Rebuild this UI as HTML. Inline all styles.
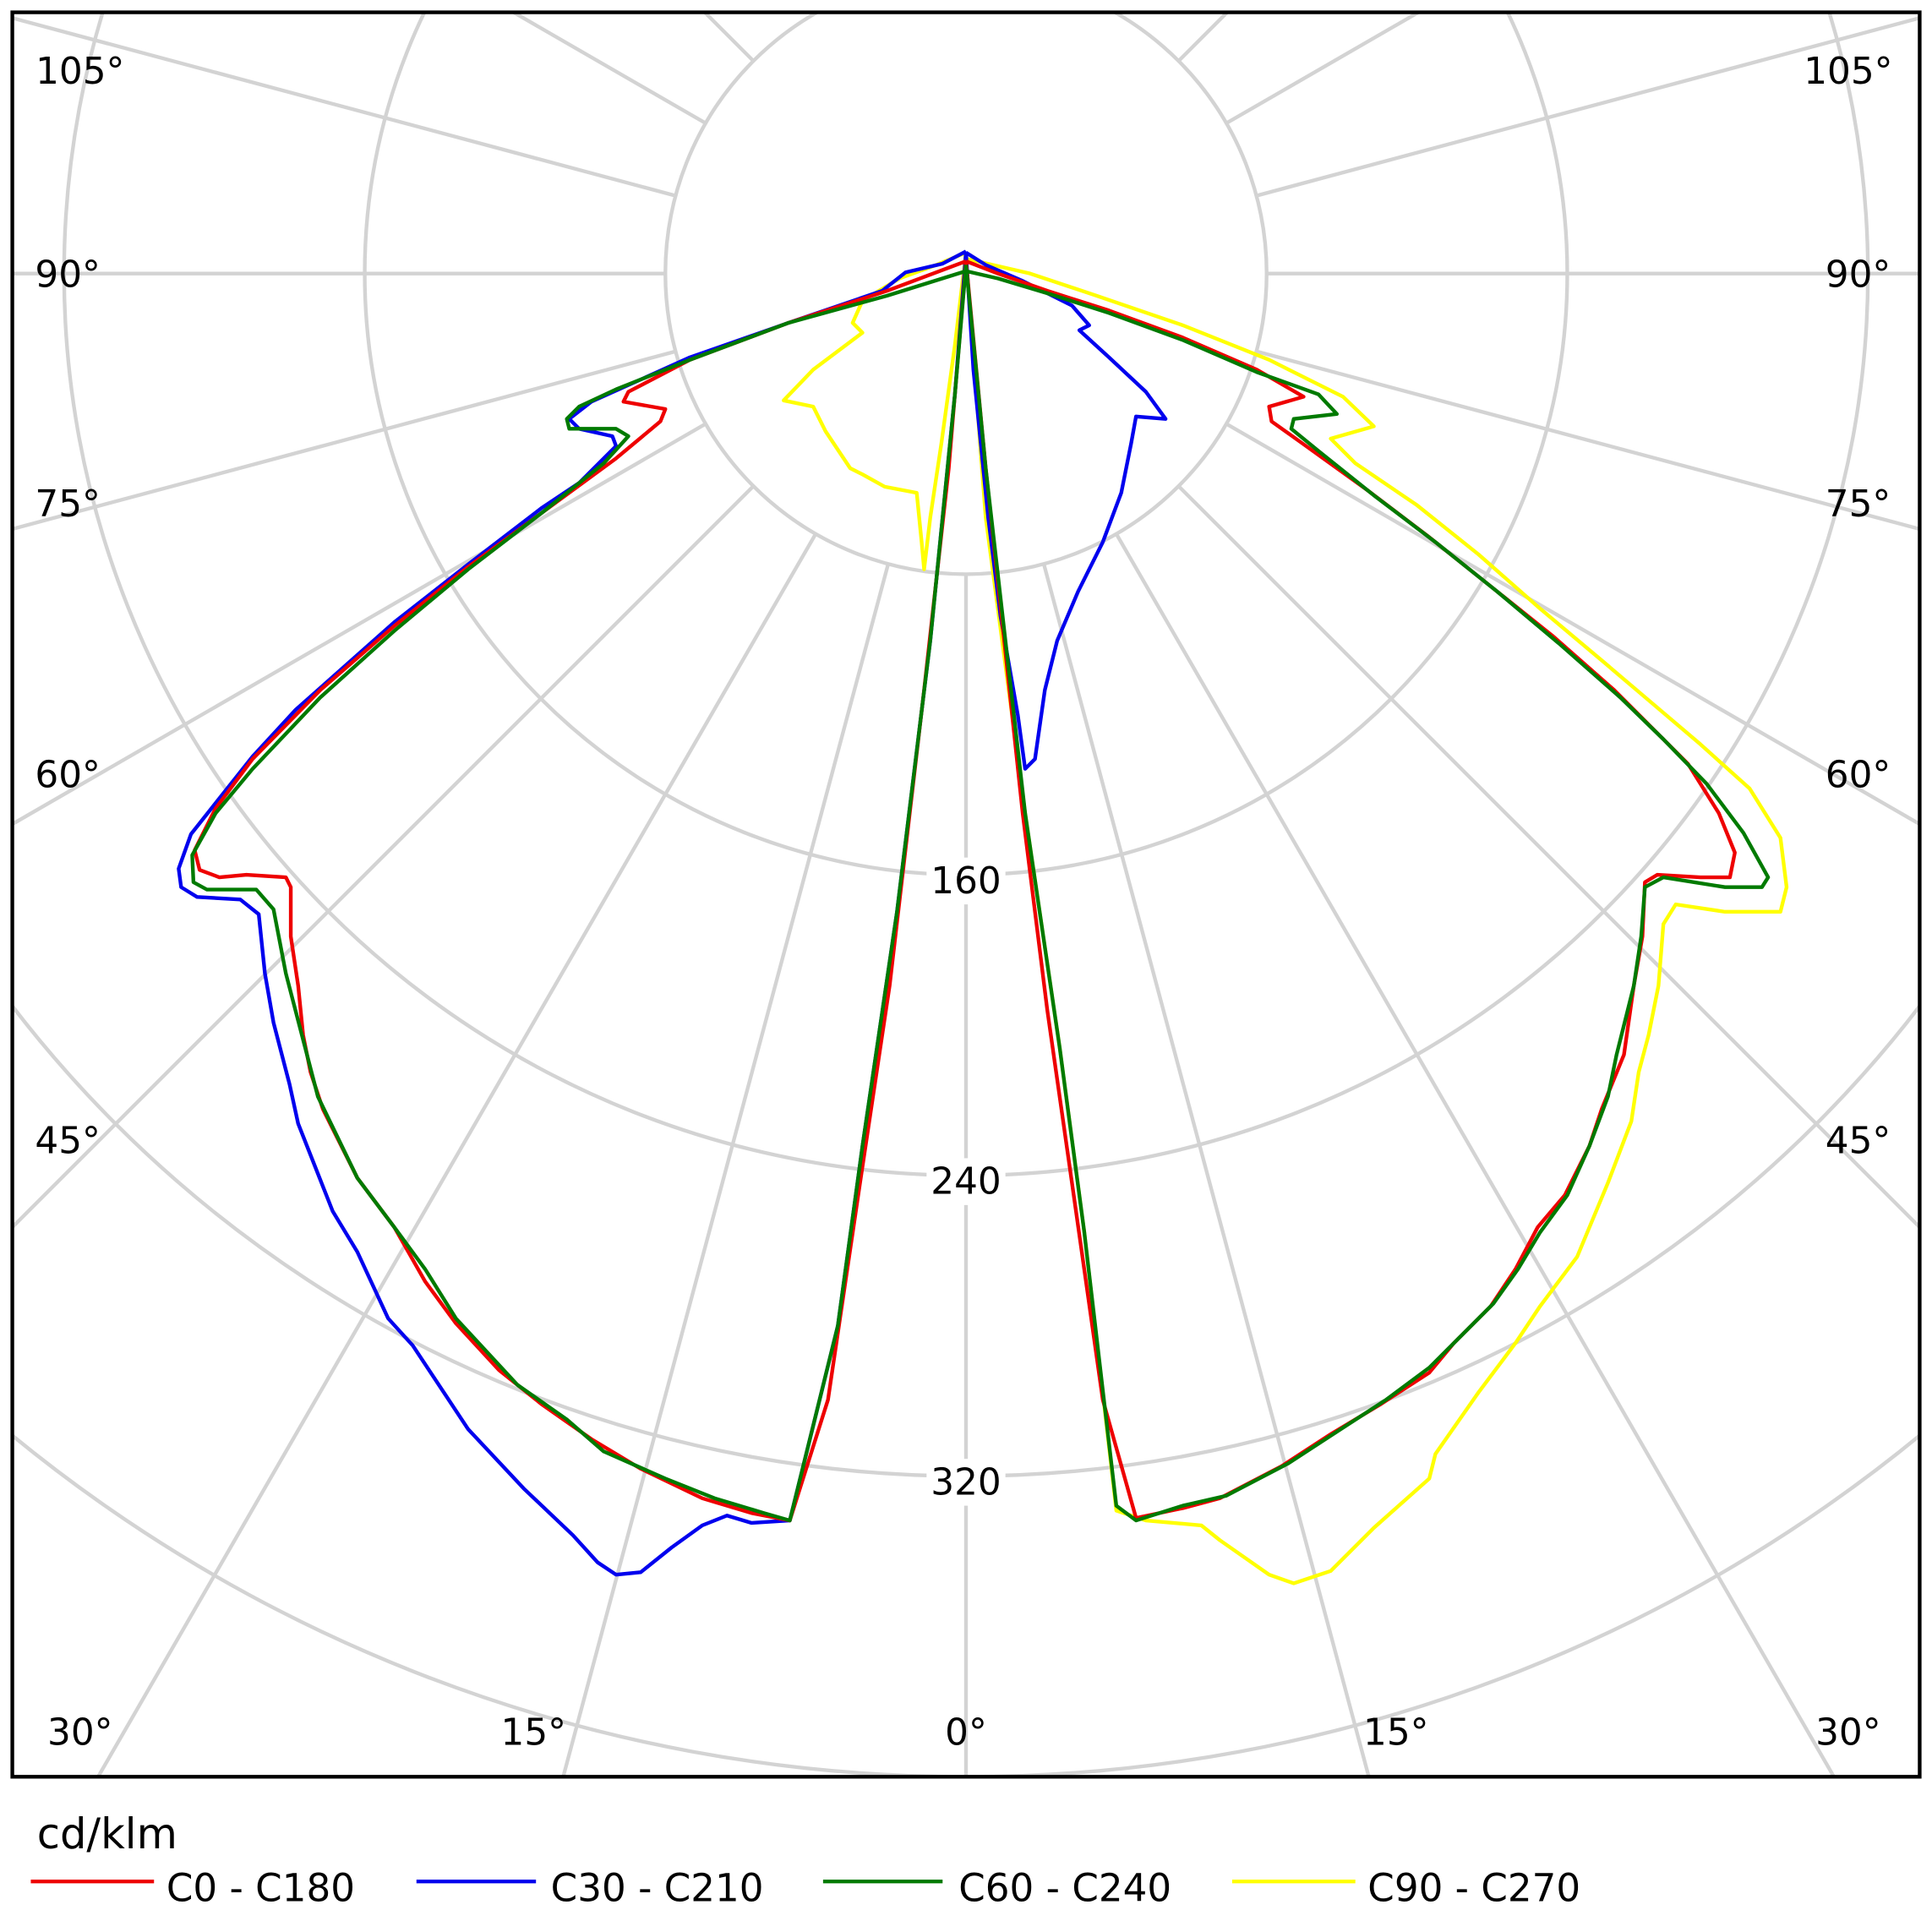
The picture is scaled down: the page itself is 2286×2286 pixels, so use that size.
<!DOCTYPE html>
<html><head><meta charset="utf-8"><style>html,body{margin:0;padding:0;background:#fff;width:2286px;height:2286px;overflow:hidden}svg{display:block}</style></head><body>
<svg width="2286" height="2286" viewBox="0 0 1568 1568" preserveAspectRatio="none" xmlns="http://www.w3.org/2000/svg" font-family="DejaVu Sans, Liberation Sans, sans-serif">
<defs><clipPath id="c"><rect x="10" y="10" width="1548" height="1432"/></clipPath></defs>
<rect width="1568" height="1568" fill="#fff"/>
<g clip-path="url(#c)" stroke="#d3d3d3" stroke-width="3" fill="none">
<circle cx="784" cy="222" r="244"/><circle cx="784" cy="222" r="488"/><circle cx="784" cy="222" r="732"/><circle cx="784" cy="222" r="976"/><circle cx="784" cy="222" r="1220"/>
<g id="sp">
<line x1="784" y1="466" x2="784" y2="1800"/>
<line x1="784" y1="466" x2="784" y2="1800" transform="rotate(15 784 222)"/>
<line x1="784" y1="466" x2="784" y2="1800" transform="rotate(30 784 222)"/>
<line x1="784" y1="466" x2="784" y2="1800" transform="rotate(45 784 222)"/>
<line x1="784" y1="466" x2="784" y2="1800" transform="rotate(60 784 222)"/>
<line x1="784" y1="466" x2="784" y2="1800" transform="rotate(75 784 222)"/>
<line x1="784" y1="466" x2="784" y2="1800" transform="rotate(90 784 222)"/>
<line x1="784" y1="466" x2="784" y2="1800" transform="rotate(105 784 222)"/>
<line x1="784" y1="466" x2="784" y2="1800" transform="rotate(120 784 222)"/>
<line x1="784" y1="466" x2="784" y2="1800" transform="rotate(135 784 222)"/>
<line x1="784" y1="466" x2="784" y2="1800" transform="rotate(150 784 222)"/>
<line x1="784" y1="466" x2="784" y2="1800" transform="rotate(165 784 222)"/>
<line x1="784" y1="466" x2="784" y2="1800" transform="rotate(180 784 222)"/>
<line x1="784" y1="466" x2="784" y2="1800" transform="rotate(-15 784 222)"/>
<line x1="784" y1="466" x2="784" y2="1800" transform="rotate(-30 784 222)"/>
<line x1="784" y1="466" x2="784" y2="1800" transform="rotate(-45 784 222)"/>
<line x1="784" y1="466" x2="784" y2="1800" transform="rotate(-60 784 222)"/>
<line x1="784" y1="466" x2="784" y2="1800" transform="rotate(-75 784 222)"/>
<line x1="784" y1="466" x2="784" y2="1800" transform="rotate(-90 784 222)"/>
<line x1="784" y1="466" x2="784" y2="1800" transform="rotate(-105 784 222)"/>
<line x1="784" y1="466" x2="784" y2="1800" transform="rotate(-120 784 222)"/>
<line x1="784" y1="466" x2="784" y2="1800" transform="rotate(-135 784 222)"/>
<line x1="784" y1="466" x2="784" y2="1800" transform="rotate(-150 784 222)"/>
<line x1="784" y1="466" x2="784" y2="1800" transform="rotate(-165 784 222)"/>
</g>
</g>
<g fill="#fff"><rect x="752" y="696" width="64" height="38"/><rect x="752" y="940" width="64" height="38"/><rect x="752" y="1184" width="64" height="38"/></g>
<g font-size="30" fill="#000" text-anchor="middle">
<text x="784" y="725">160</text><text x="784" y="969">240</text><text x="784" y="1213">320</text>
<text x="65" y="68">105°</text><text x="1500" y="68">105°</text>
<text x="55" y="233">90°</text><text x="1508" y="233">90°</text>
<text x="55" y="419">75°</text><text x="1508" y="419">75°</text>
<text x="55" y="639">60°</text><text x="1508" y="639">60°</text>
<text x="55" y="936">45°</text><text x="1508" y="936">45°</text>
<text x="65" y="1416">30°</text><text x="1500" y="1416">30°</text>
<text x="433" y="1416">15°</text><text x="1133" y="1416">15°</text>
<text x="784" y="1416">0°</text>
</g>
<g fill="none" stroke-width="3" stroke-linejoin="round" clip-path="url(#c)">
<polyline stroke="#ffff00" points="784,210 836,222 890,240 960,264 1030,292 1090,322 1115,346 1080,356 1100,376 1150,410 1200,450 1250,494 1300,536 1340,570 1380,604 1420,640 1445,680 1450,720 1445,740 1400,740 1360,734 1350,750 1346,800 1338,840 1330,870 1324,910 1305,960 1280,1020 1250,1060 1230,1090 1200,1130 1165,1180 1160,1200 1115,1240 1080,1275 1050,1285 1030,1278 990,1250 975,1238 930,1234 906,1226 880,1000 860,850 832,660 800,420 784,210"/>
<polyline stroke="#ffff00" points="784,205 760,215 730,226 700,244 692,262 700,270 660,300 636,325 660,330 670,350 690,380 700,385 718,395 744,400 748,440 750,462 755,420 764,360 775,280 784,205"/>
<polyline stroke="#0000ee" points="784,204 765,214 735,221 716,236 640,262 560,290 480,326 462,340 470,348 497,354 500,362 470,392 440,412 380,458 320,505 240,576 205,614 155,677 145,705 147,720 160,728 195,730 210,742 215,790 222,830 235,880 242,912 270,983 290,1016 315,1070 335,1092 380,1160 425,1208 465,1246 485,1268 500,1278 520,1276 545,1256 570,1238 590,1230 610,1236 641,1234 680,1076 700,930 728,740 755,520 775,320 784,204"/>
<polyline stroke="#0000ee" points="784,205 800,215 830,228 870,248 884,264 876,268 900,290 930,318 946,340 922,338 918,360 910,400 895,440 875,480 858,520 848,560 840,616 832,624 826,580 812,500 802,420 790,300 784,205"/>
<polyline stroke="#ee0000" points="784,212 720,236 640,262 560,292 510,318 506,326 540,332 536,342 500,372 440,416 380,460 320,508 260,560 205,616 175,656 158,690 162,706 178,712 200,710 232,712 236,720 236,760 242,800 246,840 252,870 262,900 290,956 320,996 345,1040 370,1074 405,1112 440,1140 480,1168 520,1192 570,1216 610,1228 641,1234 672,1136 698,960 722,800 750,560 770,380 784,212"/>
<polyline stroke="#ee0000" points="784,212 810,222 850,236 900,252 960,274 1020,300 1058,322 1030,330 1032,342 1060,362 1110,398 1160,436 1210,476 1260,516 1310,560 1340,590 1370,620 1395,660 1408,692 1404,712 1380,712 1345,710 1335,716 1333,760 1326,800 1318,856 1300,900 1290,930 1270,970 1248,996 1230,1030 1210,1060 1180,1090 1160,1114 1120,1140 1080,1164 1040,1190 990,1216 960,1224 922,1232 895,1136 870,960 850,820 830,660 800,380 784,212"/>
<polyline stroke="#007a00" points="784,220 720,240 640,262 560,292 500,316 470,330 460,340 462,348 500,348 510,354 490,376 440,416 380,462 320,512 260,566 205,624 175,660 156,694 157,716 168,722 208,722 222,738 232,790 245,840 258,890 290,956 320,996 345,1030 370,1070 420,1124 460,1152 490,1178 540,1200 580,1216 620,1228 641,1234 680,1076 700,930 728,740 755,520 775,320 784,215"/>
<polyline stroke="#007a00" points="784,220 810,226 850,238 900,254 960,276 1020,302 1070,320 1085,336 1050,340 1048,348 1070,366 1115,402 1165,440 1215,480 1265,522 1315,566 1350,600 1385,636 1415,676 1435,712 1430,720 1400,720 1350,712 1335,720 1332,760 1326,800 1312,856 1305,890 1290,930 1272,970 1250,1000 1232,1030 1212,1058 1182,1088 1160,1110 1125,1136 1085,1162 1045,1188 995,1214 960,1222 922,1234 906,1222 880,1000 860,850 832,660 800,380 784,215"/>
</g>
<rect x="10" y="10" width="1548" height="1432" fill="none" stroke="#000" stroke-width="3"/>
<g font-size="34" fill="#000">
<text x="30" y="1500">cd/klm</text>
<g font-size="31"><text x="135" y="1543">C0 - C180</text><text x="447" y="1543">C30 - C210</text><text x="778" y="1543">C60 - C240</text><text x="1110" y="1543">C90 - C270</text></g>
</g>
<g stroke-width="3"><line x1="25" y1="1527" x2="125" y2="1527" stroke="#ee0000"/><line x1="338" y1="1527" x2="435" y2="1527" stroke="#0000ee"/><line x1="668" y1="1527" x2="765" y2="1527" stroke="#007a00"/><line x1="1000" y1="1527" x2="1100" y2="1527" stroke="#ffff00"/></g>
</svg>
</body></html>
